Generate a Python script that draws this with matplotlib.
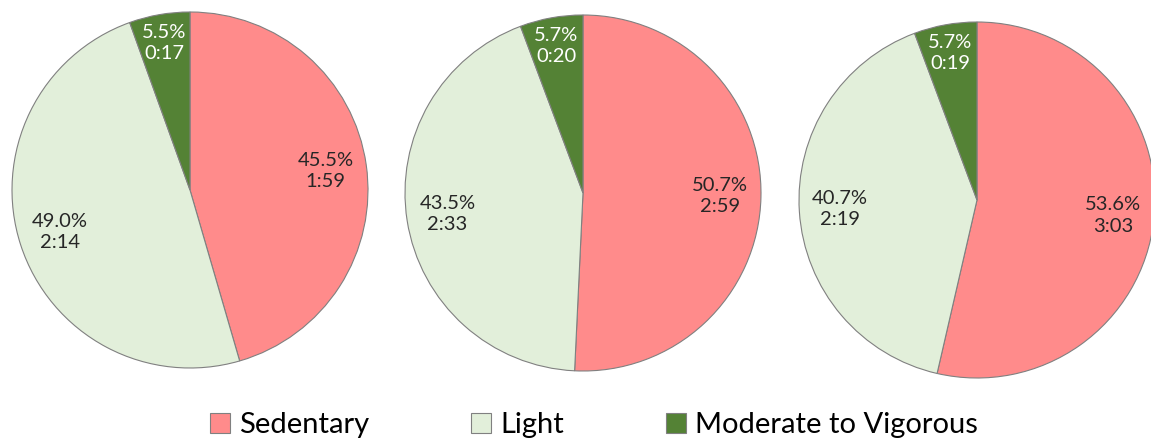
import numpy as np
import matplotlib
matplotlib.use("Agg")
import matplotlib.pyplot as plt
from matplotlib.patches import Patch

plt.rcParams['font.family'] = ['Lato', 'DejaVu Sans']

# ---------------- Data ---------------- #
categories = ['Sedentary', 'Light', 'Moderate to Vigorous']
percents = [
    [45.5, 49.0, 5.5],
    [50.7, 43.5, 5.7],
    [53.6, 40.7, 5.7],
]
durations = [
    ['1:59', '2:14', '0:17'],
    ['2:59', '2:33', '0:20'],
    ['3:03', '2:19', '0:19'],
]

colors = ['#FF8B8B', '#E2EFDA', '#548235']
text_colors = ['#262626', '#262626', 'white']

# ---------------- Layout (pixels) ---------------- #
W, H = 1151, 441
centers = [(190, H - 190), (583, H - 193), (977, H - 200)]
RADIUS = 178

fig = plt.figure(figsize=(W / 100, H / 100), dpi=100)
ax = fig.add_axes([0, 0, 1, 1])
ax.set_xlim(0, W)
ax.set_ylim(0, H)
ax.set_aspect('equal')
ax.axis('off')

for vals, durs, c in zip(percents, durations, centers):
    wedges, _ = ax.pie(vals, colors=colors, startangle=90, counterclock=False,
                       center=c, radius=RADIUS,
                       wedgeprops=dict(edgecolor='#808080', linewidth=0.8))
    # label each wedge at its mid angle (small wedges a bit further out)
    for w, v, d, tc in zip(wedges, vals, durs, text_colors):
        mid = np.deg2rad((w.theta1 + w.theta2) / 2)
        dist = 0.84 if v < 10 else 0.77
        x = c[0] + dist * RADIUS * np.cos(mid)
        y = c[1] + dist * RADIUS * np.sin(mid)
        ax.text(x, y, f'{v:.1f}%\n{d}', ha='center', va='center',
                fontsize=14.5, color=tc, linespacing=1.3)

ax.set_xlim(0, W)
ax.set_ylim(0, H)

handles = [Patch(facecolor=col, edgecolor='#808080', linewidth=0.8) for col in colors]
fig.legend(handles, categories, loc='center', bbox_to_anchor=(0.516, 1 - 425 / H),
           ncol=3, frameon=False, fontsize=21, handlelength=0.7, handleheight=0.7,
           handletextpad=0.3, columnspacing=3.5)

fig.savefig('out.png', dpi=100)
